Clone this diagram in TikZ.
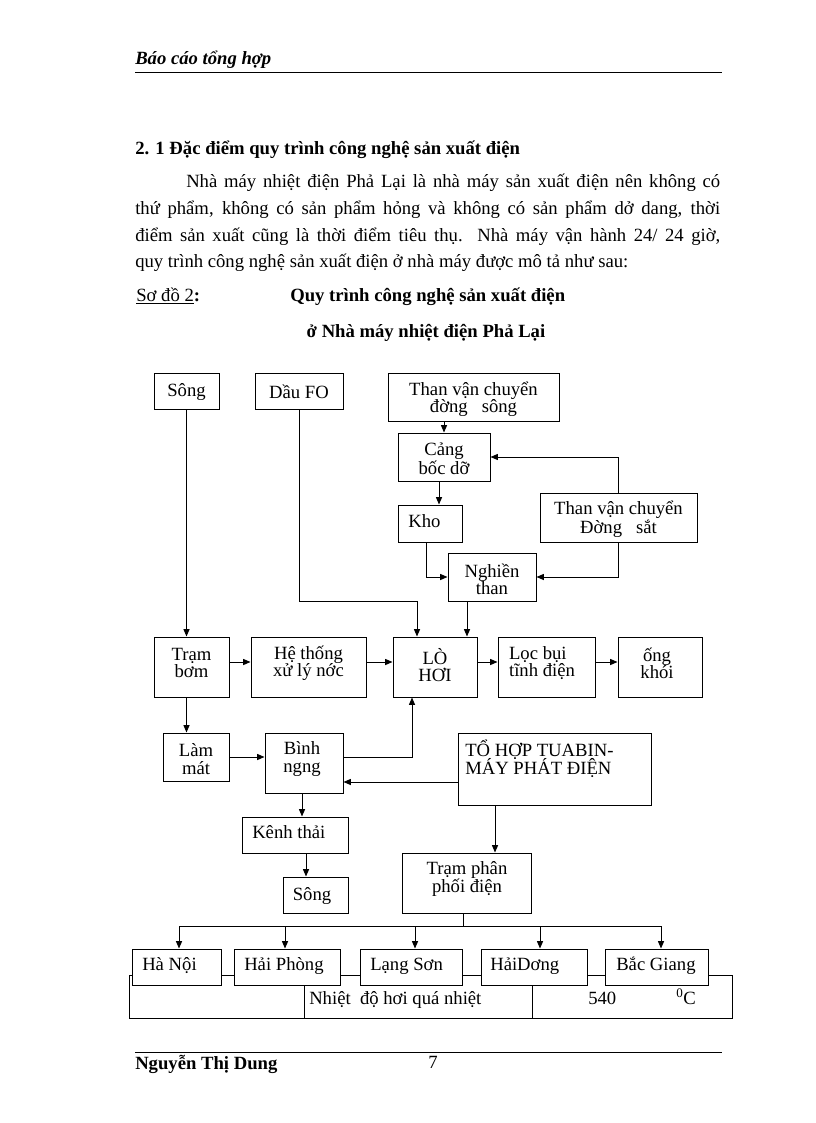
\documentclass[tikz,border=0pt]{standalone}
\usepackage{fontspec}
\setmainfont{Liberation Serif}
\usetikzlibrary{arrows.meta}
\newcommand{\dfont}{\fontsize{14}{13}\selectfont}
\newcommand{\bfont}{\fontsize{14}{16}\selectfont}
\begin{document}
\begin{tikzpicture}[x=0.75pt,y=-0.75pt,
  box/.style={draw, fill=white, line width=0.75pt, inner sep=0},
  bx/.style 2 args={box, minimum width=#1*0.75pt, minimum height=#2*0.75pt},
  txt/.style={inner sep=0, align=center, font=\dfont},
  ltxt/.style={inner sep=0, anchor=mid west, font=\dfont},
  arr/.style={line width=0.75pt, -{Triangle[length=5.5pt,width=4.5pt]}},
  ln/.style={line width=0.75pt},
  body/.style={inner sep=0, anchor=mid west, font=\bfont}]
\path[use as bounding box, fill=white] (0,0) rectangle (816,1123);

% header
\node[body, font=\bfont\bfseries\itshape] (hdr) at (135,61) {Báo cáo tổng hợp};
\coordinate (hr1) at (135,72); \coordinate (hr2) at (722,72);
\draw[line width=0.6pt] (hr1) -- (hr2);

% text
\node[body, font=\bfont\bfseries] (sec) at (135,151) {2. 1 Đặc điểm quy trình công nghệ sản xuất điện};
\node[body] (p1) at (186,184) {\makebox[400.5pt][s]{Nhà máy nhiệt điện Phả Lại là nhà máy sản xuất điện nên không có}};
\node[body] (p2) at (135,211) {\makebox[438.75pt][s]{thứ phẩm, không có sản phẩm hỏng và không có sản phẩm dở dang, thời}};
\node[body] (p3) at (135,238) {\makebox[438.75pt][s]{điểm sản xuất cũng là thời điểm tiêu thụ. Nhà máy vận hành 24/ 24 giờ,}};
\node[body] (p4) at (135,264) {quy trình công nghệ sản xuất điện ở nhà máy được mô tả như sau:};
\node[body] (so) at (136,298) {\underline{Sơ đồ 2}\textbf{:}};
\node[body, font=\bfont\bfseries] (cap1) at (290,298) {Quy trình công nghệ sản xuất điện};
\node[inner sep=0, anchor=mid, font=\bfont\bfseries] (cap2) at (426,334) {ở Nhà máy nhiệt điện Phả Lại};

% bottom table
\coordinate (t1) at (129,975); \coordinate (t2) at (732,1018);
\draw[ln] (t1) rectangle (t2);
\coordinate (d1) at (304,975); \coordinate (d2) at (532,975);
\draw[ln] (d1) -- (d1 |- t2);
\draw[ln] (d2) -- (d2 |- t2);
\node[ltxt] (tt1) at (309,1001) {Nhiệt\ \ độ hơi quá nhiệt};
\node[ltxt] (tt2) at (588,1001) {540};
\node[ltxt] (tt3) at (676,1001) {\textsuperscript{0}C};

% boxes
\node[bx={65}{36}] (song1) at (186.5,391) {};
\node[txt] (song1t) at (186.5,392) {Sông};
\node[bx={88}{36}] (dau) at (299,391) {};
\node[txt] (daut) at (299,392) {Dầu FO};
\node[bx={171}{48}] (thansong) at (473.5,397) {};
\node[txt] (thansongt) at (473.5,399) {Than vận chuyển\\đờng\ \ \ sông};
\node[bx={92}{48}] (cang) at (444,457) {};
\node[txt] (cangt) at (444,459) {Cảng\\bốc dỡ};
\node[bx={64}{37}] (kho) at (430,523.5) {};
\node[ltxt] (khot) at (408,524) {Kho};
\node[bx={157}{49}] (thansat) at (618.5,517.5) {};
\node[txt] (thansatt) at (618.5,519) {Than vận chuyển\\Đờng\ \ \ sắt};
\node[bx={88}{48}] (nghien) at (492,577) {};
\node[txt] (nghient) at (492,579) {Nghiền\\than};
\node[bx={75}{60}] (bom) at (191.5,667) {};
\node[txt] (bomt) at (191.5,663) {Trạm\\bơm};
\node[bx={115}{60}] (heth) at (308.5,667) {};
\node[txt] (hetht) at (308.5,663) {Hệ thống\\xử lý nớc};
\node[bx={84}{60}] (lohoi) at (435,667) {};
\node[txt] (lohoit) at (435,665) {LÒ\\HƠI};
\node[bx={97}{60}] (loc) at (546.5,667) {};
\node[txt, align=left] (loct) at (542,663) {Lọc bụi\\tĩnh điện};
\node[bx={84}{60}] (ong) at (660,667) {};
\node[txt] (ongt) at (657,663) {ống\\khói};
\node[bx={66}{48}] (lammat) at (196,757) {};
\node[txt] (lammatt) at (196,759) {Làm\\mát};
\node[bx={78}{60}] (binh) at (304,763) {};
\node[txt] (binht) at (302,759) {Bình\\ngng};
\node[bx={193}{72}] (tohop) at (554.5,769) {};
\node[inner sep=0, align=left, anchor=north west, font={\fontsize{14}{13.5}\selectfont\lineskiplimit=-20pt}] (tohopt) at (465,740) {TỔ HỢP TUABIN-\\MÁY PHÁT ĐIỆN};
\node[bx={106}{36}] (kenh) at (295,835) {};
\node[ltxt] (kenht) at (252,835) {Kênh thải};
\node[bx={65}{36}] (song2) at (315.5,895) {};
\node[txt] (song2t) at (312,896) {Sông};
\node[bx={129}{60}] (tramphan) at (466.5,883) {};
\node[txt] (tramphant) at (467,879) {Trạm phân\\phối điện};

\node[bx={89}{36}] (hanoi) at (176.5,967) {};
\node[ltxt] (hanoit) at (142,967) {Hà Nội};
\node[bx={106}{36}] (haiphong) at (287,967) {};
\node[ltxt] (haiphongt) at (244,967) {Hải Phòng};
\node[bx={102}{36}] (langson) at (411,967) {};
\node[ltxt] (langsont) at (370,967) {Lạng Sơn};
\node[bx={106}{36}] (haiduong) at (534,967) {};
\node[ltxt] (haiduongt) at (490,967) {HảiDơng};
\node[bx={103}{36}] (bacgiang) at (656.5,967) {};
\node[ltxt] (bacgiangt) at (616,967) {Bắc Giang};

% connectors
\draw[arr] (song1.south) -- (song1.south |- bom.north);
\coordinate (c1) at (417,601);
\draw[arr] (dau.south) |- (c1) -- (c1 |- lohoi.north);
\draw[arr] (thansong.south -| cang.north) -- (cang.north);
\coordinate (c7) at (439,490);
\draw[arr] (cang.south -| c7) -- (kho.north -| c7);
\draw[arr] (thansat.north) |- (cang.east);
\coordinate (c8) at (426,560);
\draw[arr] (kho.south -| c8) |- (nghien.west);
\draw[arr] (thansat.south) |- (nghien.east);
\coordinate (c2) at (467,620);
\draw[arr] (nghien.south -| c2) -- (lohoi.north -| c2);
\coordinate (r) at (0,662);
\draw[arr] (bom.east |- r) -- (heth.west |- r);
\draw[arr] (heth.east |- r) -- (lohoi.west |- r);
\draw[arr] (lohoi.east |- r) -- (loc.west |- r);
\draw[arr] (loc.east |- r) -- (ong.west |- r);
\draw[arr] (bom.south -| song1.south) -- (song1.south |- lammat.north);
\draw[arr] (lammat.east) -- (lammat.east -| binh.west);
\coordinate (c3) at (412,757);
\draw[arr] (binh.east |- c3) -| (lohoi.south -| c3);
\coordinate (c4) at (0,782);
\draw[arr] (tohop.west |- c4) -- (binh.east |- c4);
\coordinate (c5) at (495,0);
\draw[arr] (tohop.south -| c5) -- (tramphan.north -| c5);
\coordinate (c6) at (302,0);
\draw[arr] (binh.south -| c6) -- (kenh.north -| c6);
\coordinate (c9) at (306,0);
\draw[arr] (kenh.south -| c9) -- (song2.north -| c9);

\coordinate (bus) at (463,926);
\draw[ln] (tramphan.south -| bus) -- (bus);
\coordinate (b1) at (179,926); \coordinate (b2) at (285,926);
\coordinate (b3) at (415,926); \coordinate (b4) at (540,926);
\coordinate (b5) at (661,926);
\draw[ln] (b1) -- (b5);
\draw[arr] (b1) -- (b1 |- hanoi.north);
\draw[arr] (b2) -- (b2 |- haiphong.north);
\draw[arr] (b3) -- (b3 |- langson.north);
\draw[arr] (b4) -- (b4 |- haiduong.north);
\draw[arr] (b5) -- (b5 |- bacgiang.north);

% footer
\coordinate (fr1) at (135,1052); \coordinate (fr2) at (722,1052);
\draw[line width=0.6pt] (fr1) -- (fr2);
\node[body, font=\bfont\bfseries] (name) at (135,1066) {Nguyễn Thị Dung};
\node[inner sep=0, anchor=mid, font=\bfont] (pg) at (433,1065) {7};
\end{tikzpicture}
\end{document}
